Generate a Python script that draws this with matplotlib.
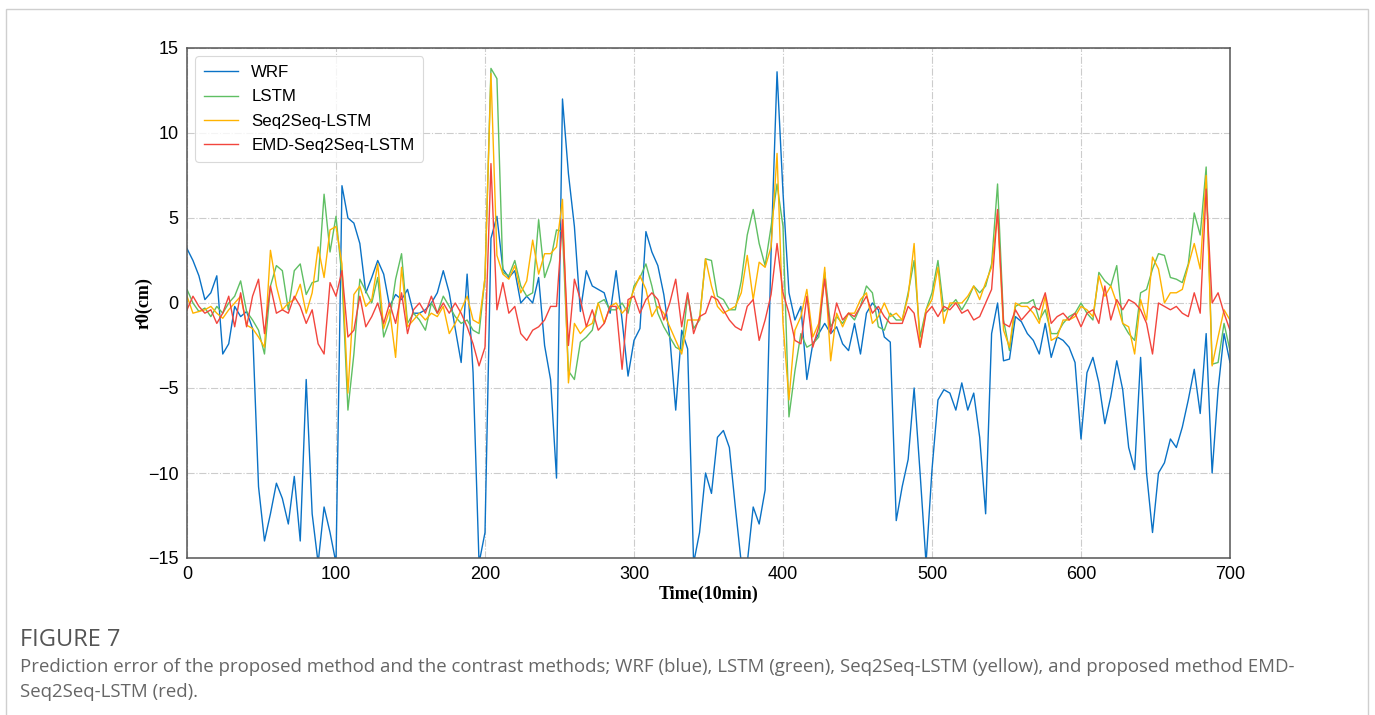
import matplotlib
matplotlib.use("Agg")
import matplotlib.pyplot as plt
from matplotlib.patches import Rectangle
import numpy as np

# time axis (10-min steps), sampled every 4 steps
time = list(range(0, 701, 4))

wrf = [
    3.2, 2.5, 1.6, 0.2, 0.6, 1.6, -3.0, -2.4, -0.2, -0.8, -0.5, -1.5, -10.8, -14.0, -12.4, -10.6, -11.5, -13.0, -10.2, -14.0, -4.5, -12.4, -15.3, -12.0, -13.5,
    -15.3, 6.9, 5.0, 4.7, 3.5, 0.6, 1.5, 2.5, 1.7, -0.2, 0.5, 0.2, 0.8, -0.6, -0.6, -0.4, 0.0, 0.6, 1.9, 0.6, -1.5, -3.5, 1.7, -4.1, -15.3,
    -13.5, 3.8, 5.1, 2.0, 1.5, 1.9, 0.0, 0.4, 0.0, 1.5, -2.5, -4.5, -10.3, 12.0, 7.6, 4.5, -0.5, 1.9, 1.0, 0.8, 0.6, -0.6, 1.9, -1.0, -4.3,
    -2.2, -1.5, 4.2, 3.0, 2.2, 0.5, -2.0, -6.3, -1.6, -2.7, -15.3, -13.5, -10.0, -11.2, -7.9, -7.5, -8.5, -12.0, -15.3, -15.3, -12.0, -13.0, -11.0, 3.0, 13.6,
    6.5, 0.6, -1.0, -0.2, -4.5, -2.4, -1.8, -1.2, -1.8, -1.4, -2.4, -2.8, -1.2, -3.0, -0.6, 0.0, -0.4, -2.0, -2.3, -12.8, -10.8, -9.2, -5.0, -10.0, -15.3,
    -9.8, -5.7, -5.1, -5.3, -6.3, -4.7, -6.3, -5.3, -7.9, -12.4, -1.8, 0.0, -3.4, -3.3, -0.8, -1.1, -1.8, -2.2, -3.0, -1.2, -3.2, -2.0, -2.2, -2.6, -3.5,
    -8.0, -4.1, -3.2, -4.7, -7.1, -5.5, -3.4, -5.1, -8.5, -9.8, -3.2, -10.0, -13.5, -10.0, -9.4, -8.0, -8.5, -7.3, -5.7, -3.9, -6.5, -1.8, -10.0, -5.1, -1.8,
    -3.5,
]

lstm = [
    0.8, 0.0, -0.5, -0.3, -0.8, -0.2, -0.6, 0.0, 0.4, 1.3, -0.5, -1.0, -1.6, -3.0, 1.0, 2.2, 1.9, -0.4, 1.9, 2.3, 0.5, 1.2, 1.3, 6.4, 3.0,
    5.1, 1.5, -6.3, -3.0, 1.4, 0.7, 0.0, 1.5, -2.0, -1.0, 1.4, 2.9, -1.2, -0.6, -1.0, -1.6, 0.0, -0.6, 0.4, -0.2, -0.8, -1.2, -1.0, -1.6, -1.8,
    1.5, 13.8, 13.2, 1.8, 1.6, 2.5, 1.0, 0.4, 0.6, 4.9, 1.5, 2.5, 4.3, 4.2, -4.0, -4.5, -2.3, -2.0, -1.6, 0.0, 0.2, -0.4, -0.4, 0.0, -0.6,
    1.0, 1.5, 2.3, 1.0, -0.6, -1.4, -2.0, -2.6, -2.8, 0.5, -1.5, -1.0, 2.6, 2.5, 0.4, 0.2, -0.4, -0.4, 1.3, 4.0, 5.5, 3.5, 2.2, 4.5, 7.0,
    4.5, -6.7, -4.0, -1.8, -2.6, -2.4, -2.0, 1.8, -1.4, -0.8, -1.2, -0.6, -1.0, -0.2, 1.0, 0.6, -1.4, -1.6, -0.6, -1.0, -1.0, 0.6, 2.5, -2.0, -0.4,
    0.6, 2.5, -0.5, -0.2, 0.2, -0.4, 0.2, 1.0, 0.6, 1.0, 2.3, 7.0, -1.0, -2.8, -0.2, 0.0, 0.0, 0.2, -1.0, -0.4, -1.8, -1.8, -1.2, -0.8, -0.6,
    0.0, -0.6, -1.0, 1.8, 1.3, 1.0, 2.2, -1.2, -1.8, -2.2, 0.6, 0.8, 2.0, 2.9, 2.8, 1.5, 1.4, 1.2, 2.3, 5.3, 4.0, 8.0, -3.6, -3.5, -1.2,
    -2.8,
]

seq2seq = [
    0.4, -0.6, -0.5, -0.4, -0.2, -0.6, -0.9, -0.4, 0.0, 0.4, -1.3, -1.5, -2.0, -2.6, 3.1, 1.0, -0.4, 0.0, 0.2, 1.1, -0.6, 0.6, 3.3, 1.5, 4.3,
    4.5, 2.3, -5.3, 0.5, 1.0, -0.2, 0.2, 2.3, -1.5, -0.4, -3.2, 2.1, -1.4, -1.0, -0.6, -1.0, -0.6, -0.8, -0.2, -1.8, -1.2, -0.4, 0.4, -1.0, -1.2,
    1.5, 13.5, 2.8, 1.7, 1.4, 2.2, 0.6, 1.3, 3.7, 1.7, 2.9, 2.9, 3.3, 6.1, -4.7, -1.2, -1.8, -1.4, -1.2, 0.0, -1.2, -0.2, 0.0, -0.6, -0.2,
    0.8, 1.6, 0.8, -0.8, -0.2, -0.6, -1.4, -2.2, -3.0, -1.0, -1.0, -1.0, 2.6, 1.0, -0.2, -0.6, -0.4, -0.2, 0.6, 2.8, 0.2, 2.4, 2.1, 3.3, 8.8,
    -1.2, -5.7, -1.6, -0.8, 0.8, -2.0, -1.2, 2.1, -3.4, -0.6, -1.4, -0.6, -0.6, 0.2, 0.6, -1.2, -0.8, 0.0, -0.8, -0.6, -1.0, 0.4, 3.5, -2.6, -0.4,
    0.2, 2.1, -1.2, 0.0, 0.0, 0.0, 0.4, 1.0, 0.2, 1.2, 2.1, 5.3, -1.6, -2.6, 0.0, -0.2, -0.2, -0.6, -1.2, 0.4, -2.2, -2.0, -1.0, -1.0, -0.8,
    -0.2, -0.4, -0.8, 1.6, 0.4, 1.0, 0.0, -1.2, -1.4, -3.0, 0.2, -1.0, 2.7, 2.0, 0.0, 0.6, 0.6, 0.8, 2.2, 3.5, 2.0, 7.5, -3.7, -2.0, -0.4,
    -1.0,
]

emd_seq2seq = [
    -0.4, 0.4, -0.2, -0.6, -0.4, -1.2, -0.6, 0.4, -1.4, 0.6, -1.4, 0.4, 1.4, -1.8, 1.0, -0.6, -0.4, -0.6, 0.4, -0.2, -1.2, -0.4, -2.4, -3.0, 1.2,
    0.4, 1.9, -2.0, -1.6, 0.4, -1.4, -0.8, 0.0, -1.2, 0.0, -1.2, 0.6, -1.8, -0.4, 0.0, -0.6, 0.4, -0.6, 0.0, -0.6, 0.0, -0.6, -1.4, -2.4, -3.7,
    -2.6, 8.2, -0.4, 1.2, -0.6, -0.2, -1.8, -2.2, -1.6, -1.4, -1.0, -0.2, -0.2, 4.9, -2.5, 1.4, 0.2, -1.4, -0.4, -1.6, -1.2, -0.2, -0.2, -3.9, 0.2,
    0.4, -0.6, 0.2, 0.6, 0.2, -1.0, 0.0, 1.4, -1.4, 0.6, -1.8, -0.8, -0.6, 0.4, 0.2, -0.4, -1.0, -1.4, -1.6, -0.2, 0.2, -2.2, -1.0, 0.5, 3.5,
    0.6, -0.6, -2.2, -2.4, 0.4, -2.6, -1.4, 1.4, -1.8, 0.0, -1.0, -0.6, -0.8, -0.2, 0.4, -0.6, -0.2, -0.8, -1.2, -1.2, -1.2, -0.2, -0.6, -2.6, -0.6,
    -0.2, -0.8, -0.2, -0.4, 0.0, -0.6, -0.4, -1.0, -0.8, 0.0, 0.8, 5.5, -1.2, -1.4, -0.4, -1.0, -0.6, -0.2, -0.4, 0.6, -1.2, -0.8, -0.6, -1.0, -0.6,
    -1.4, -0.6, -0.4, -1.2, 1.0, -1.0, 0.2, -0.4, 0.2, 0.0, -0.4, -1.2, -3.0, 0.0, -0.2, -0.4, -0.2, -0.6, -0.8, 0.6, -0.6, 6.7, 0.0, 0.6, -0.6,
    -1.6,
]

series_names = ["WRF", "LSTM", "Seq2Seq-LSTM", "EMD-Seq2Seq-LSTM"]
series_colors = ["#0a72c6", "#5fbf63", "#ffb300", "#f2453d"]
x_ticks = [0, 100, 200, 300, 400, 500, 600, 700]
y_ticks = [-15, -10, -5, 0, 5, 10, 15]

W, H = 1375, 715
fig = plt.figure(figsize=(W / 100, H / 100), dpi=100)
fig.patch.set_facecolor("white")

# outer light frame
fig.patches.append(Rectangle((6 / W, -0.02), (1368 - 6) / W, (715 - 9) / H + 0.02,
                             transform=fig.transFigure, fill=False,
                             edgecolor="#cfcfcf", lw=1.0))

ax = fig.add_axes([187 / W, (H - 558) / H, (1230 - 187) / W, (558 - 48) / H])

for vals, name, col in zip([wrf, lstm, seq2seq, emd_seq2seq], series_names, series_colors):
    ax.plot(time, vals, color=col, lw=1.0, label=name)

ax.set_xlim(0, 700)
ax.set_ylim(-15, 15)
ax.set_xticks(x_ticks)
ax.set_yticks(y_ticks)
ax.grid(True, linestyle="-.", color="#cccccc", lw=0.8)
ax.set_axisbelow(True)
ax.tick_params(length=0, labelsize=13, pad=6)
for lab in ax.get_xticklabels() + ax.get_yticklabels():
    lab.set_family("Liberation Sans")
for sp in ax.spines.values():
    sp.set_color("#555555")
    sp.set_linewidth(1.1)

ax.set_xlabel("Time(10min)", family="Liberation Serif", fontweight="bold", fontsize=13, labelpad=2)
ax.set_ylabel("r0(cm)", family="Liberation Serif", fontweight="bold", fontsize=13, labelpad=-3.5)

leg = ax.legend(loc="upper left", prop={"family": "Liberation Sans", "size": 12.2},
                frameon=True, fancybox=True, borderpad=0.5, handlelength=2.0,
                labelspacing=0.56, handletextpad=0.8, borderaxespad=0.5)
leg.get_frame().set_edgecolor("#d0d0d0")
leg.get_frame().set_linewidth(0.8)

fig.text(20 / W, 1 - 640 / H, "FIGURE 7", family="Open Sans", fontsize=17,
         color="#555555", va="center", ha="left")
fig.text(20 / W, 1 - 667 / H,
         "Prediction error of the proposed method and the contrast methods; WRF (blue), LSTM (green), Seq2Seq-LSTM (yellow), and proposed method EMD-",
         family="Open Sans", fontsize=13.4, color="#666666", va="center", ha="left")
fig.text(20 / W, 1 - 692 / H, "Seq2Seq-LSTM (red).",
         family="Open Sans", fontsize=13.4, color="#666666", va="center", ha="left")

fig.savefig("out.png", dpi=100)
